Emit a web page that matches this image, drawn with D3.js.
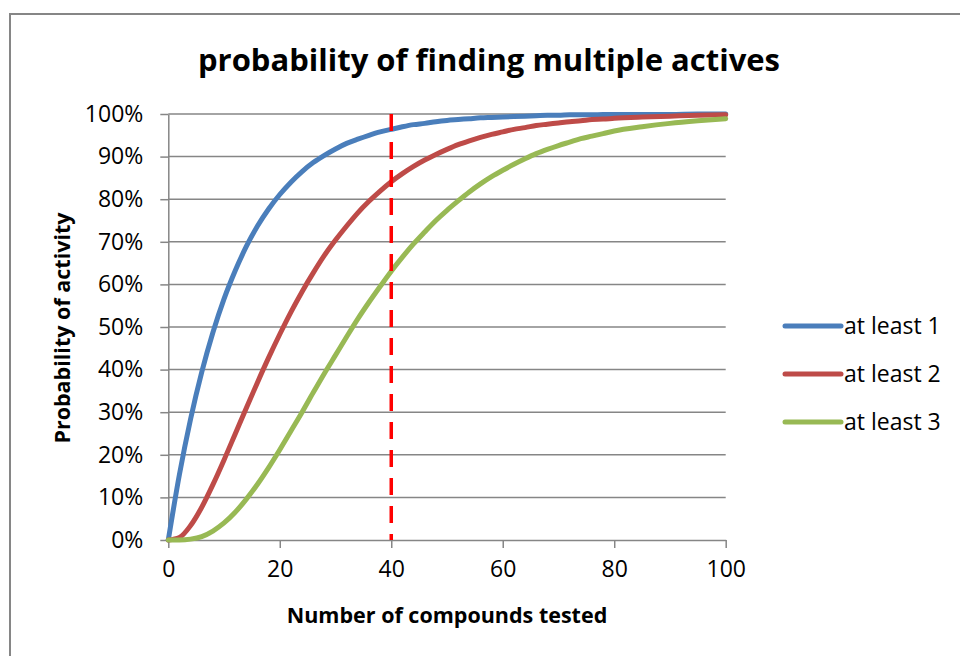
<!DOCTYPE html>
<html>
<head>
<meta charset="utf-8">
<script src="https://cdn.jsdelivr.net/npm/d3@7"></script>
<style>
  html, body { margin: 0; padding: 0; background: #fff; }
  svg { display: block; font-family: "Open Sans", "Noto Sans", sans-serif; }
</style>
</head>
<body>
<svg id="chart" width="960" height="656"></svg>
<script>
// ---- data ----
const compoundsTested = [0,2,4,6,8,10,12,14,16,18,20,22,24,26,28,30,32,34,36,38,40,42,44,46,48,50,52,54,56,58,60,62,64,66,68,70,72,74,76,78,80,85,90,95,100];
const atLeast1 = [0,15.4,28.4,39.4,48.7,56.6,63.2,68.9,73.7,77.7,81.1,84.0,86.5,88.6,90.3,91.8,93.1,94.1,95.0,95.8,96.4,97.0,97.5,97.8,98.2,98.5,98.7,98.9,99.1,99.2,99.3,99.4,99.5,99.6,99.7,99.7,99.8,99.8,99.8,99.9,99.9,99.9,99.9,100,100];
const atLeast2 = [0,0.6,3.4,7.7,13.0,18.8,24.9,31.0,37.0,42.8,48.3,53.5,58.3,62.7,66.8,70.4,73.7,76.8,79.5,81.9,84.1,86.0,87.7,89.2,90.5,91.7,92.8,93.7,94.5,95.2,95.8,96.4,96.8,97.3,97.6,97.9,98.2,98.4,98.7,98.8,99.0,99.3,99.5,99.7,99.8];
const atLeast3 = [0,0,0.2,0.8,2.1,4.0,6.5,9.6,13.1,17.0,21.2,25.6,30.0,34.6,39.1,43.4,47.7,51.9,55.8,59.5,63.1,66.4,69.5,72.3,75.0,77.4,79.6,81.7,83.6,85.3,86.8,88.2,89.5,90.7,91.7,92.6,93.4,94.2,94.8,95.4,96.0,97.0,97.8,98.4,98.9];
const seriesNames = ["at least 1", "at least 2", "at least 3"];
const seriesColors = ["#4A7EBB", "#BE4B48", "#98B954"];
const markerX = [40];
const xTicks = [0,20,40,60,80,100];
const yTicks = [0,10,20,30,40,50,60,70,80,90,100];
const titleText = "probability of finding multiple actives";
const xTitle = "Number of compounds tested";
const yTitle = "Probability of activity";

const series = [atLeast1, atLeast2, atLeast3].map((vals, i) => ({
  name: seriesNames[i], color: seriesColors[i],
  points: compoundsTested.map((n, j) => [n, vals[j]])
}));

// ---- layout ----
const svg = d3.select("#chart");
const plot = { left: 168.3, right: 725.7, top: 114, bottom: 540 };
const x = d3.scaleLinear().domain([0, 100]).range([plot.left, plot.right]);
const y = d3.scaleLinear().domain([0, 100]).range([plot.bottom, plot.top]);
const grey = "#868686";
const tickFont = 23;

// outer border
svg.append("rect").attr("x", 10).attr("y", 14).attr("width", 1000).attr("height", 700)
  .attr("fill", "none").attr("stroke", grey).attr("stroke-width", 2);

// title
svg.append("text").attr("x", 489).attr("y", 71).attr("text-anchor", "middle")
  .attr("font-size", 31).attr("font-weight", "bold").attr("fill", "#000").text(titleText);

// horizontal gridlines
svg.append("g").selectAll("line").data(yTicks.slice(1)).join("line")
  .attr("x1", plot.left).attr("x2", plot.right)
  .attr("y1", d => y(d)).attr("y2", d => y(d))
  .attr("stroke", grey).attr("stroke-width", 1.5);

// y axis
const yAxis = svg.append("g").attr("transform", `translate(${plot.left},0)`)
  .call(d3.axisLeft(y).tickValues(yTicks).tickFormat(d => d + "%").tickSize(8).tickSizeOuter(0).tickPadding(17));
yAxis.select(".domain").attr("stroke", grey).attr("stroke-width", 1.5);
yAxis.selectAll(".tick line").attr("stroke", grey).attr("stroke-width", 1.5);
yAxis.selectAll(".tick text").attr("font-size", tickFont).attr("fill", "#000")
  .attr("font-family", "'Open Sans', sans-serif");

// x axis
const xAxis = svg.append("g").attr("transform", `translate(0,${plot.bottom})`)
  .call(d3.axisBottom(x).tickValues(xTicks).tickSize(8).tickSizeOuter(0).tickPadding(13));
xAxis.select(".domain").attr("stroke", grey).attr("stroke-width", 1.5);
xAxis.selectAll(".tick line").attr("stroke", grey).attr("stroke-width", 1.5);
xAxis.selectAll(".tick text").attr("font-size", tickFont).attr("fill", "#000")
  .attr("font-family", "'Open Sans', sans-serif");

// axis titles
svg.append("text").attr("x", (plot.left + plot.right) / 2).attr("y", 623).attr("text-anchor", "middle")
  .attr("font-size", 21.5).attr("font-weight", "bold").attr("fill", "#000").text(xTitle);
svg.append("text").attr("transform", `translate(70,${(plot.top + plot.bottom) / 2 + 1}) rotate(-90)`)
  .attr("text-anchor", "middle").attr("font-size", 21.5).attr("font-weight", "bold").attr("fill", "#000").text(yTitle);

// series lines
const line = d3.line().x(d => x(d[0])).y(d => y(d[1])).curve(d3.curveMonotoneX);
svg.append("g").selectAll("path").data(series).join("path")
  .attr("d", d => line(d.points)).attr("fill", "none")
  .attr("stroke", d => d.color).attr("stroke-width", 5)
  .attr("stroke-linecap", "round").attr("stroke-linejoin", "round");

// red dashed marker
svg.append("g").selectAll("line").data(markerX).join("line")
  .attr("x1", d => x(d)).attr("x2", d => x(d))
  .attr("y1", y(100)).attr("y2", y(0))
  .attr("stroke", "#FF0000").attr("stroke-width", 3.5).attr("stroke-dasharray", "17,11");

// legend
const legend = svg.append("g").selectAll("g").data(series).join("g")
  .attr("transform", (d, i) => `translate(785,${326 + i * 48})`);
legend.append("line").attr("x1", 0).attr("x2", 56).attr("y1", 0).attr("y2", 0)
  .attr("stroke", d => d.color).attr("stroke-width", 5).attr("stroke-linecap", "round");
legend.append("text").attr("x", 59).attr("y", 0).attr("dy", "0.35em")
  .attr("font-size", tickFont).attr("fill", "#000").text(d => d.name);
</script>
</body>
</html>
